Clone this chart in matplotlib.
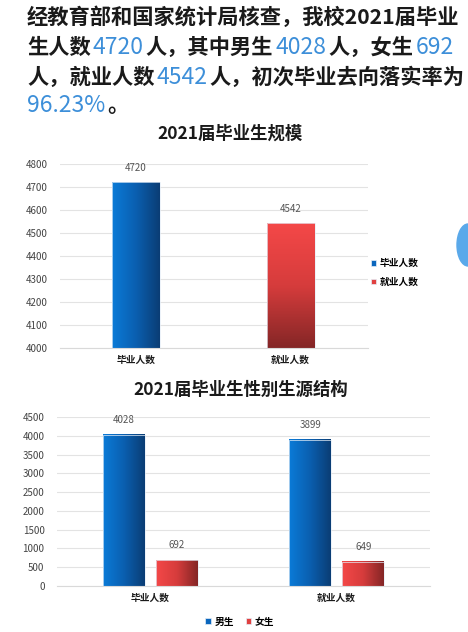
import matplotlib
matplotlib.use("Agg")
import matplotlib.pyplot as plt
import numpy as np
from matplotlib.colors import LinearSegmentedColormap
from matplotlib.patches import Ellipse

plt.rcParams['font.family'] = ['Noto Sans CJK SC', 'DejaVu Sans']

# data
categories = ['毕业人数', '就业人数']
scale_values = [4720, 4542]
male_values = [4028, 3899]
female_values = [692, 649]
scale_ticks = [4000, 4100, 4200, 4300, 4400, 4500, 4600, 4700, 4800]
gender_ticks = [0, 500, 1000, 1500, 2000, 2500, 3000, 3500, 4000, 4500]

blue_cmap = LinearSegmentedColormap.from_list('b', ['#0b7bd8', '#0a5fb0', '#0b3d74'])
red_cmap = LinearSegmentedColormap.from_list('r', ['#f44848', '#d63c3c', '#842626'])
ink = '#1a1a1a'
num_blue = '#3d8fd9'

# paragraph text, split by colour
lines = [
    [('经教育部和国家统计局核查，我校2021届毕业', ink)],
    [('生人数', ink), ('4720', num_blue), ('人，其中男生', ink), ('4028', num_blue),
     ('人，女生', ink), ('692', num_blue)],
    [('人，就业人数', ink), ('4542', num_blue), ('人，初次毕业去向落实率为', ink)],
    [('96.23%', num_blue), ('。', ink)],
]
line_y = [17, 47, 77, 105]

fig = plt.figure(figsize=(4.68, 6.32), dpi=100)
fig.patch.set_facecolor('white')


def gradient_bars(ax, bars, cmap, ymin, vertical=False):
    for rect in bars:
        x, y = rect.get_x(), rect.get_y()
        w, h = rect.get_width(), rect.get_height()
        y0 = max(y, ymin)
        if vertical:
            grad = np.linspace(0, 1, 256).reshape(-1, 1)
        else:
            grad = np.linspace(0, 1, 256).reshape(1, -1)
        ax.imshow(grad, extent=[x, x + w, y0, y + h], cmap=cmap, aspect='auto',
                  origin='upper', zorder=2)
        rect.set_facecolor('none')
        rect.set_edgecolor('#e4edf7')
        rect.set_linewidth(0.5)
        rect.set_zorder(3)


def style_axes(ax, ticks):
    ax.set_yticks(ticks)
    ax.set_ylim(ticks[0], ticks[-1])
    ax.grid(axis='y', color='#e3e3e3', linewidth=0.8, zorder=0)
    ax.set_axisbelow(True)
    for s in ['top', 'right', 'left']:
        ax.spines[s].set_visible(False)
    ax.spines['bottom'].set_color('#d9d9d9')
    ax.tick_params(axis='y', length=0, labelsize=7, labelcolor='#444444', pad=9)
    ax.tick_params(axis='x', length=0, labelsize=7, labelcolor=ink, pad=5)
    for t in ax.get_xticklabels():
        t.set_fontweight('bold')
    ax.set_facecolor('white')


# ---- chart 1 ----
ax1 = fig.add_axes([60 / 468, 1 - 348 / 632, 308 / 468, 184 / 632])
x1 = np.arange(len(categories))
b_blue = ax1.bar(x1[0], scale_values[0], width=0.31, label=categories[0], color='#0a66bd')
b_red = ax1.bar(x1[1], scale_values[1], width=0.31, label=categories[1], color='#e04040')
ax1.set_xticks(x1)
ax1.set_xticklabels(categories)
style_axes(ax1, scale_ticks)
gradient_bars(ax1, b_blue, blue_cmap, scale_ticks[0])
gradient_bars(ax1, b_red, red_cmap, scale_ticks[0], vertical=True)
ax1.set_xlim(-0.49, 1.50)
ax1.set_ylim(scale_ticks[0], scale_ticks[-1])
for xi, v in zip(x1, scale_values):
    ax1.annotate(str(v), (xi, v), xytext=(0, 7), textcoords='offset points',
                 ha='center', va='bottom', fontsize=7, color='#555555')
fig.text(230 / 468, 1 - 134 / 632, '2021届毕业生规模', ha='center', va='center',
         fontsize=12.5, fontweight='bold', color=ink)
leg1 = ax1.legend(handles=[b_blue, b_red], labels=categories, loc='center left',
                  bbox_to_anchor=(0.98, 0.41), frameon=False, fontsize=7,
                  handlelength=0.55, handleheight=0.55, handletextpad=0.4,
                  labelspacing=0.9)
leg1.legend_handles[0].set_facecolor('#0a66bd')
leg1.legend_handles[1].set_facecolor('#e04040')
for t in leg1.get_texts():
    t.set_fontweight('bold')

# ---- chart 2 ----
ax2 = fig.add_axes([57 / 468, 1 - 586 / 632, 373 / 468, 169 / 632])
x2 = np.arange(len(categories))
bw = 0.225
m_bars = ax2.bar(x2 - 0.142, male_values, width=bw, label='男生', color='#0a66bd')
f_bars = ax2.bar(x2 + 0.142, female_values, width=bw, label='女生', color='#e04040')
ax2.set_xticks(x2)
ax2.set_xticklabels(categories)
style_axes(ax2, gender_ticks)
gradient_bars(ax2, m_bars, blue_cmap, gender_ticks[0])
gradient_bars(ax2, f_bars, red_cmap, gender_ticks[0])
ax2.set_xlim(-0.5, 1.5)
ax2.set_ylim(gender_ticks[0], gender_ticks[-1])
for xs, vals in [(x2 - 0.142, male_values), (x2 + 0.142, female_values)]:
    for xi, v in zip(xs, vals):
        ax2.annotate(str(v), (xi, v), xytext=(0, 7), textcoords='offset points',
                     ha='center', va='bottom', fontsize=7, color='#555555')
fig.text(241 / 468, 1 - 390 / 632, '2021届毕业生性别生源结构', ha='center', va='center',
         fontsize=12.5, fontweight='bold', color=ink)
leg2 = ax2.legend(handles=[m_bars, f_bars], labels=['男生', '女生'], loc='upper center',
                  bbox_to_anchor=(0.49, -0.13), frameon=False, fontsize=7, ncol=2,
                  handlelength=0.55, handleheight=0.55, handletextpad=0.4,
                  columnspacing=1.2)
leg2.legend_handles[0].set_facecolor('#0a66bd')
leg2.legend_handles[1].set_facecolor('#e04040')
for t in leg2.get_texts():
    t.set_fontweight('bold')

# overlay in pixel coords for paragraph and decoration
deco = fig.add_axes([0, 0, 1, 1], zorder=-1)
deco.set_xlim(0, 468)
deco.set_ylim(632, 0)
deco.axis('off')
deco.add_patch(Ellipse((468, 245), 22, 42, color='#5aa9ea'))

# paragraph: each segment placed right after the previous one
for segs, yy in zip(lines, line_y):
    prev = None
    for txt, col in segs:
        if col == ink:
            kw = dict(fontsize=15.3, color=col, fontweight='bold')
        else:
            kw = dict(fontsize=16.5, color=col, fontweight='medium')
        kw.update(va='center', ha='left')
        if prev is None:
            prev = deco.text(27, yy, txt, **kw)
        else:
            prev = deco.annotate(txt, xy=(1, 0.5), xycoords=prev,
                                 xytext=(1.5, 0), textcoords='offset points',
                                 annotation_clip=False, **kw)

fig.savefig('out.png', dpi=100, facecolor='white')
